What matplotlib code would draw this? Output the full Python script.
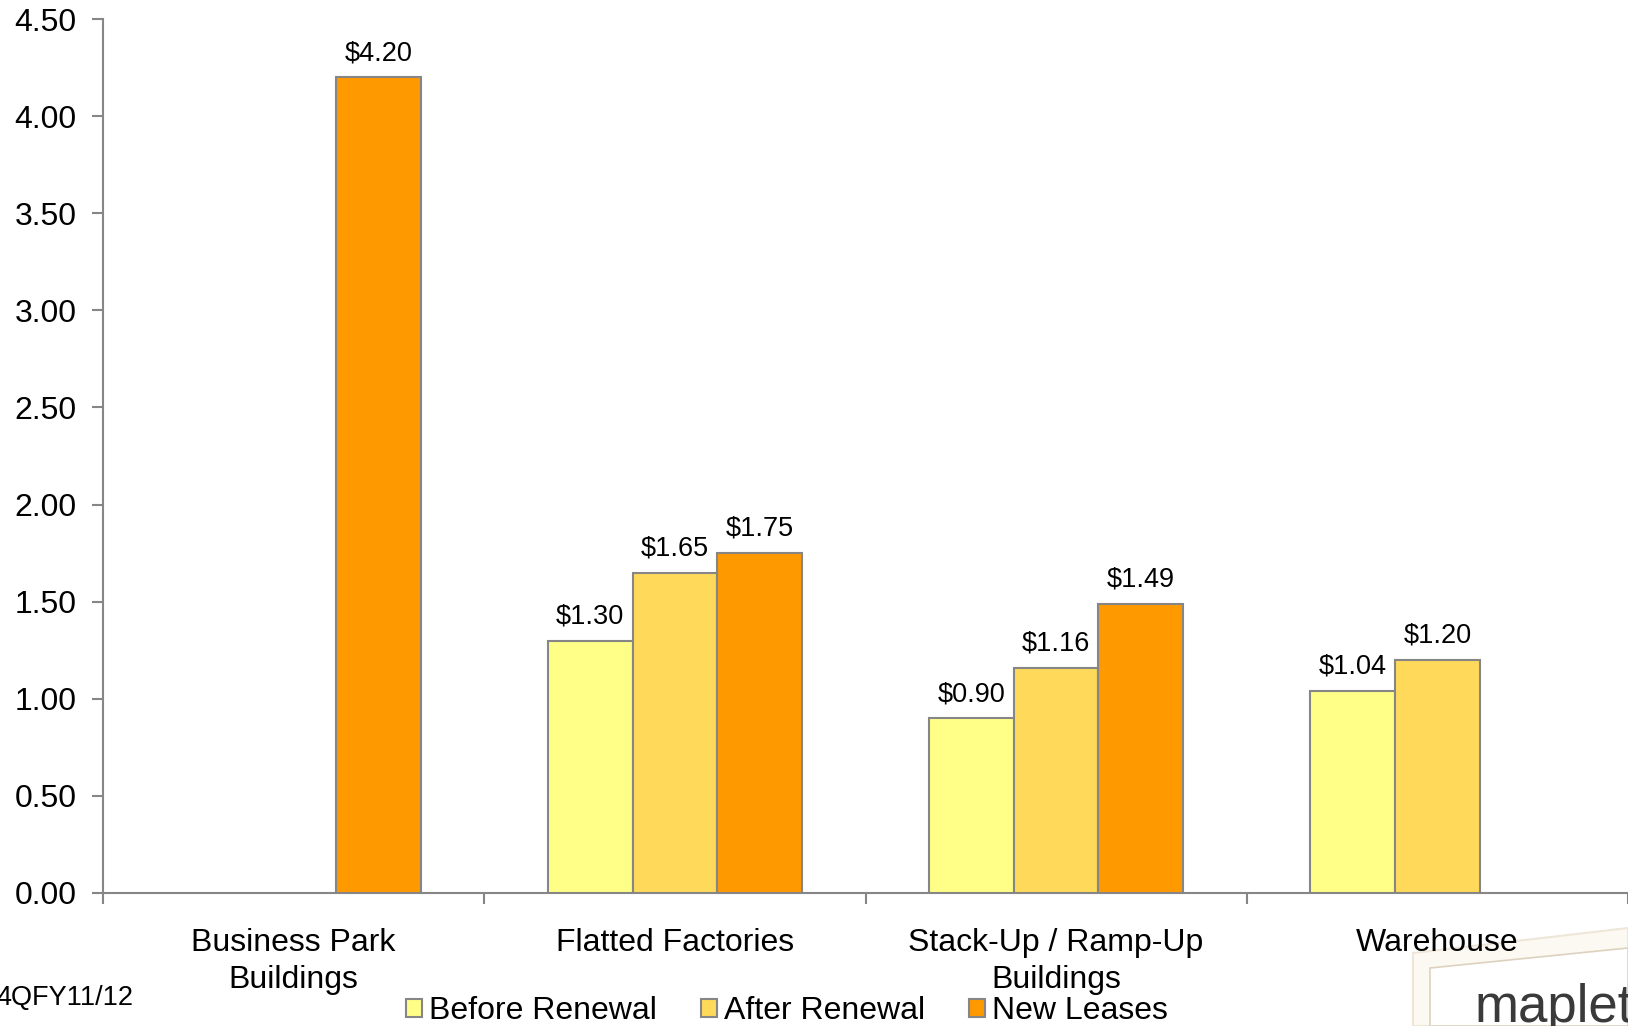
import matplotlib
matplotlib.use("Agg")
import matplotlib.pyplot as plt
import numpy as np
from matplotlib.patches import Polygon

plt.rcParams['font.family'] = ['Liberation Sans', 'DejaVu Sans']

# --- data ---
categories = ["Business Park\nBuildings", "Flatted Factories",
              "Stack-Up / Ramp-Up\nBuildings", "Warehouse"]
series_names = ["Before Renewal", "After Renewal", "New Leases"]
before_renewal = [np.nan, 1.30, 0.90, 1.04]
after_renewal = [np.nan, 1.65, 1.16, 1.20]
new_leases = [4.20, 1.75, 1.49, np.nan]
yticks = [0.0, 0.5, 1.0, 1.5, 2.0, 2.5, 3.0, 3.5, 4.0, 4.5]
footnote = "4QFY11/12"

colors = ["#FFFF88", "#FFD95A", "#FF9900"]
edge = "#868686"

W, H = 1628, 1026
fig = plt.figure(figsize=(W / 100, H / 100), dpi=100)
ax = fig.add_axes([103 / W, (H - 893) / H, (W - 103) / W, (893 - 19) / H])

x = np.arange(len(categories))
bw = 0.222
for i, (vals, name, c) in enumerate(zip([before_renewal, after_renewal, new_leases],
                                         series_names, colors)):
    pos = x + (i - 1) * bw
    ax.bar(pos, vals, width=bw, color=c, edgecolor=edge, linewidth=1.5,
           label=name, zorder=3)
    for xp, v in zip(pos, vals):
        if not np.isnan(v):
            ax.annotate(f"${v:.2f}", (xp, v), xytext=(0, 8), textcoords="offset points",
                        ha="center", va="bottom", fontsize=19.5)

ax.set_xlim(-0.5, 3.5)
ax.set_ylim(0, 4.5)
ax.set_yticks(yticks)
ax.set_yticklabels([f"{t:.2f}" for t in yticks], fontsize=23)
ax.tick_params(axis="y", length=8, width=1.5, color=edge, pad=11)

ax.set_xticks(x)
ax.set_xticklabels(categories, fontsize=23, linespacing=1.3)
ax.tick_params(axis="x", which="major", length=0, pad=25)
ax.set_xticks(np.arange(-0.5, 3.6, 1.0), minor=True)
ax.tick_params(axis="x", which="minor", length=8, width=1.5, color=edge)

for s in ["top", "right"]:
    ax.spines[s].set_visible(False)
for s in ["left", "bottom"]:
    ax.spines[s].set_color(edge)
    ax.spines[s].set_linewidth(1.5)

fig.legend(loc="center", bbox_to_anchor=(787 / W, 1 - 1011 / H), ncol=3,
           frameon=False, fontsize=23, handlelength=0.5, handleheight=0.5,
           handletextpad=0.2, columnspacing=1.4, borderaxespad=0, borderpad=0)

fig.text(-0.002, 1 - 1005 / H, footnote, fontsize=19.5, ha="left", va="baseline")

# logo card in bottom-right corner (drawn beneath the tick labels)
card = Polygon([[1413 / W, 1 - 953 / H], [1.0, 1 - 928 / H], [1.0, 0.0], [1413 / W, 0.0]],
               closed=True, transform=fig.transFigure, facecolor="#FCF9F3",
               edgecolor="#EEE6D8", linewidth=1.5, zorder=-2)
fig.patches.append(card)
inner = Polygon([[1430 / W, 1 - 968 / H], [1.0, 1 - 948 / H], [1.0, 0.0], [1430 / W, 0.0]],
                closed=True, transform=fig.transFigure, facecolor="#FFFFFF",
                edgecolor="#DDD2BF", linewidth=1.2, zorder=-1.5)
fig.patches.append(inner)
fig.text(1475 / W, 1 - 1022 / H, "mapletree", fontsize=38, color="#3A3A3A",
         ha="left", va="baseline", zorder=-1)

fig.savefig("out.png", dpi=100)
